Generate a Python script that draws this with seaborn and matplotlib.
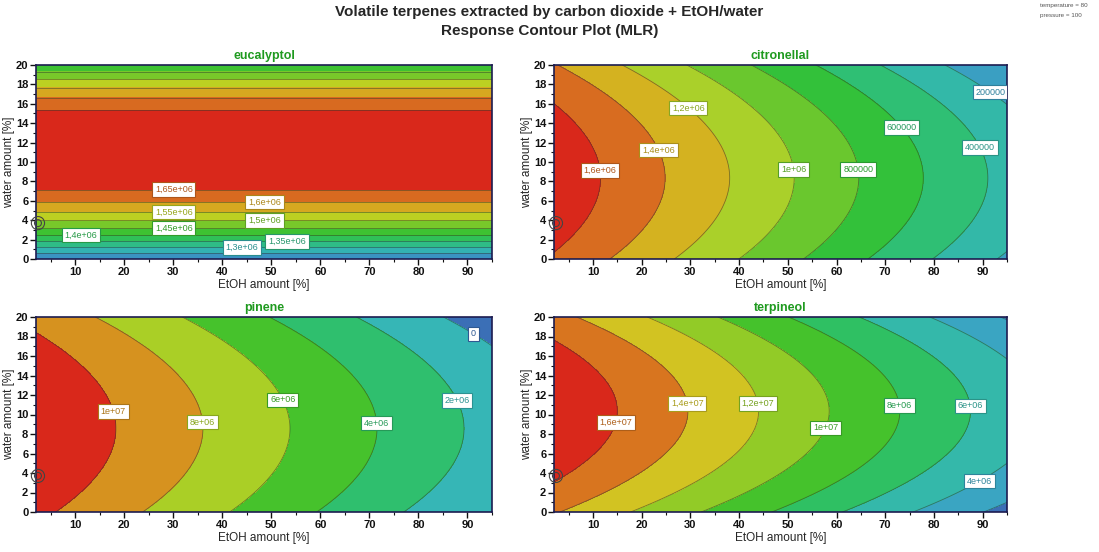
import numpy as np
import matplotlib
matplotlib.use("Agg")
import matplotlib.pyplot as plt
from matplotlib.ticker import MultipleLocator
import seaborn as sns

# ---------------- data (MLR model coefficients) -------------
# order: intercept, EtOH, water, EtOH^2, water^2, EtOH*water
responses = ["eucalyptol", "citronellal", "pinene", "terpineol"]
coef_eucalyptol = [1.19447e6, 0.0, 93375.0, 0.0, -4150.0, 0.0]
coef_citronellal = [1.603e6, -15094.0, 41065.0, 0.0, -2457.0, 0.0]
coef_pinene = [1.0676e7, -112676.0, 323700.0, 0.0, -18910.0, 0.0]
coef_terpineol = [1.4441e7, -137931.0, 701109.0, 0.0, -33870.0, 0.0]

levels_eucalyptol = [1.25e6, 1.3e6, 1.35e6, 1.4e6, 1.45e6, 1.5e6, 1.55e6, 1.6e6, 1.65e6]
levels_citronellal = [2e5, 4e5, 6e5, 8e5, 1e6, 1.2e6, 1.4e6, 1.6e6]
levels_pinene = [0, 2e6, 4e6, 6e6, 8e6, 1e7]
levels_terpineol = [2e6, 4e6, 6e6, 8e6, 1e7, 1.2e7, 1.4e7, 1.6e7]

etoh_range = [2, 95]
water_range = [0, 20]
x_ticks = [10, 20, 30, 40, 50, 60, 70, 80, 90]
y_ticks = [0, 2, 4, 6, 8, 10, 12, 14, 16, 18, 20]
center_point = (2.4, 3.7)

title_lines = ["Volatile terpenes extracted by carbon dioxide + EtOH/water",
               "Response Contour Plot (MLR)"]
conditions = ["temperature = 80", "pressure = 100"]
xlabel = "EtOH amount [%]"
ylabel = "water amount [%]"

# ---------------- styling ----------------
sns.set_style("ticks")
plt.rcParams["font.family"] = ["Liberation Sans", "DejaVu Sans"]

band_colors = {
    "eucalyptol": ["#3a93c2", "#33b2b2", "#2fbc86", "#30c058", "#3ec232", "#78c82a",
                   "#bcd022", "#d6a820", "#d86a20", "#d9281b"],
    "citronellal": ["#3a9fc2", "#33b8a8", "#2fbf74", "#33c13a", "#6ac72e", "#aad02a",
                    "#d4b220", "#d86c20", "#d9281b"],
    "pinene": ["#3b6fb6", "#36b6b6", "#2fbf6e", "#46c22c", "#aacf26", "#d6921f", "#d9281b"],
    "terpineol": ["#3b6fb6", "#3aa5c2", "#34b8aa", "#2fc063", "#45c22c", "#92cb27",
                  "#d2c322", "#d8751f", "#d9281b"],
}

label_pos = {
    "eucalyptol": [(30.1, 6.9), (30.1, 4.7), (30.1, 3.1), (11.2, 2.4), (48.6, 5.7),
                   (48.6, 3.9), (44.0, 1.1), (53.2, 1.7)],
    "citronellal": [(11.4, 9.1), (23.3, 11.2), (29.3, 15.4), (51.0, 9.2), (64.2, 9.2),
                    (73.2, 13.5), (89.1, 11.4), (91.5, 17.1)],
    "pinene": [(17.6, 10.3), (35.9, 9.2), (52.3, 11.5), (71.3, 9.1), (87.7, 11.4), (91.0, 18.1)],
    "terpineol": [(14.6, 9.2), (29.1, 11.1), (43.7, 11.1), (57.9, 8.6), (72.9, 10.9),
                  (87.5, 10.9), (89.5, 3.0)],
}

coefs = {"eucalyptol": coef_eucalyptol, "citronellal": coef_citronellal,
         "pinene": coef_pinene, "terpineol": coef_terpineol}
levels = {"eucalyptol": levels_eucalyptol, "citronellal": levels_citronellal,
          "pinene": levels_pinene, "terpineol": levels_terpineol}

W, H = 1099, 552
fig = plt.figure(figsize=(W / 100, H / 100), dpi=100)

# axes rectangles in pixels: left, top, right, bottom
rects = {
    "eucalyptol": (36, 65, 492, 259),
    "citronellal": (554, 65, 1007, 259),
    "pinene": (36, 317, 492, 512),
    "terpineol": (554, 317, 1007, 512),
}


def fmt_level(v):
    s = "%g" % v
    return s.replace(".", ",")


def darker(c, f=0.75):
    r, g, b = matplotlib.colors.to_rgb(c)
    return (r * f, g * f, b * f)


xg = np.linspace(etoh_range[0], etoh_range[1], 400)
yg = np.linspace(water_range[0], water_range[1], 300)
X, Y = np.meshgrid(xg, yg)

for name in responses:
    l, t, r, b = rects[name]
    ax = fig.add_axes([l / W, 1 - b / H, (r - l) / W, (b - t) / H])
    c = coefs[name]
    Z = c[0] + c[1] * X + c[2] * Y + c[3] * X ** 2 + c[4] * Y ** 2 + c[5] * X * Y
    lev = levels[name]
    cols = band_colors[name]
    ax.contourf(X, Y, Z, levels=lev, colors=cols, extend="both")
    cs = ax.contour(X, Y, Z, levels=lev, colors="#2a3a2a", linewidths=0.6, alpha=0.55)
    texts = ax.clabel(cs, levels=lev, manual=label_pos[name], fmt=fmt_level,
                      inline=False, fontsize=6.5)
    lab_color = {fmt_level(v): darker(cols[i], 0.8) for i, v in enumerate(lev)}
    for tx in texts:
        tx.set_rotation(0)
        col = lab_color.get(tx.get_text(), "#333333")
        tx.set_color(col)
        tx.set_bbox(dict(facecolor="white", edgecolor=col, linewidth=0.8,
                         boxstyle="square,pad=0.3"))
        tx.set_zorder(10)

    # design point marker
    ax.scatter([center_point[0]], [center_point[1]], s=90, facecolors="none",
               edgecolors="#444444", linewidths=0.8, zorder=6, clip_on=False)
    ax.scatter([center_point[0]], [center_point[1]], s=25, facecolors="none",
               edgecolors="#444444", linewidths=0.8, zorder=6, clip_on=False)

    ax.set_xlim(etoh_range)
    ax.set_ylim(water_range)
    ax.set_xticks(x_ticks)
    ax.set_yticks(y_ticks)
    ax.xaxis.set_minor_locator(MultipleLocator(5))
    ax.yaxis.set_minor_locator(MultipleLocator(1))
    ax.tick_params(which="major", direction="out", length=4, width=1, pad=1.5,
                   labelsize=8, colors="#111111")
    ax.tick_params(which="minor", direction="out", length=2.5, width=0.8, colors="#111111")
    for lab in ax.get_xticklabels() + ax.get_yticklabels():
        lab.set_fontweight("bold")
    for sp in ax.spines.values():
        sp.set_color("#1c1c50")
        sp.set_linewidth(1.2)
    ax.set_xlabel(xlabel, fontsize=8.5, labelpad=2)
    ax.set_ylabel(ylabel, fontsize=8.5)
    ax.yaxis.set_label_coords(-(36 - 15) / (r - l), 0.5)
    ax.set_title(name, fontsize=9, fontweight="bold", color="#1f9a1f", pad=4)

fig.text(0.5, 1 - 12 / H, title_lines[0], ha="center", va="center",
         fontsize=11, fontweight="bold")
fig.text(0.5, 1 - 31 / H, title_lines[1], ha="center", va="center",
         fontsize=11, fontweight="bold")
fig.text(1040 / W, 1 - 6 / H, conditions[0], ha="left", va="center", fontsize=4.5,
         color="#555555")
fig.text(1040 / W, 1 - 16 / H, conditions[1], ha="left", va="center", fontsize=4.5,
         color="#555555")

fig.savefig("out.png", dpi=100)
